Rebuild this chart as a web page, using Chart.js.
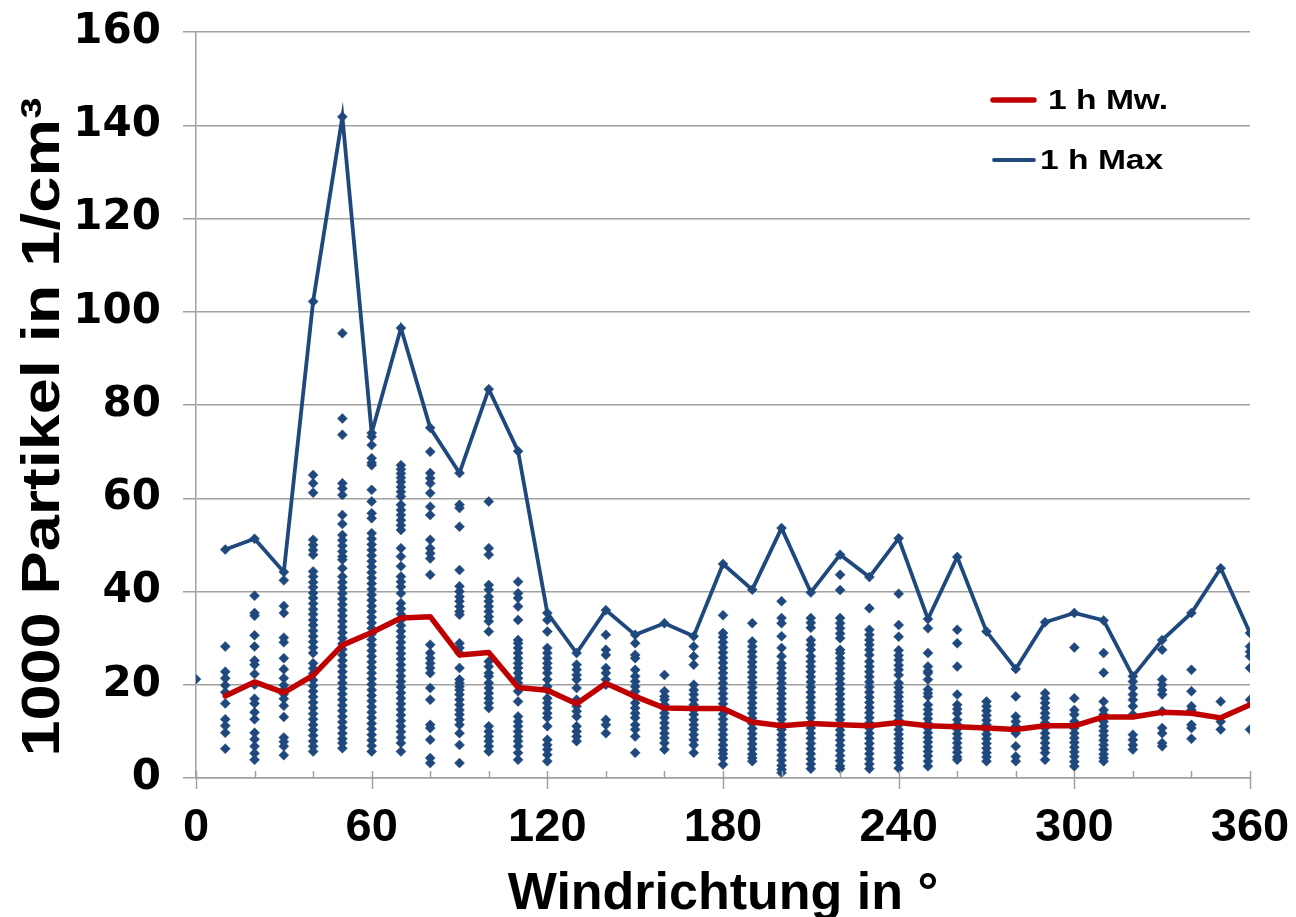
<!DOCTYPE html>
<html><head><meta charset="utf-8">
<script src="https://cdn.jsdelivr.net/npm/chart.js@4.4.0/dist/chart.umd.min.js"></script>
<style>html,body{margin:0;padding:0;background:#fff;overflow:hidden}#wrap{width:1296px;height:917px;position:relative}</style>
</head><body><div id="wrap"><canvas id="c" width="1296" height="917"></canvas></div>
<script>
// Wind direction classes (degrees)
const directions = [0,10,20,30,40,50,60,70,80,90,100,110,120,130,140,150,160,170,180,190,200,210,220,230,240,250,260,270,280,290,300,310,320,330,340,350,360];
// 1 h Max (1000 particles / cm3)
const maxValues = [null,49.0,51.3,44.2,102.2,141.8,74.0,96.5,75.1,65.4,83.4,70.1,35.4,26.8,36.0,30.7,33.2,30.4,45.9,40.4,53.6,39.8,47.9,43.1,51.4,34.1,47.4,31.4,23.4,33.4,35.4,33.8,21.8,29.6,35.4,45.0,31.1];
// 1 h Mw. (mean)
const meanValues = [null,17.6,20.6,18.3,22.0,28.5,31.2,34.3,34.6,26.4,26.9,19.4,18.8,15.9,20.3,17.5,15.0,14.9,14.9,12.0,11.2,11.7,11.4,11.2,11.9,11.2,11.0,10.7,10.4,11.2,11.2,13.1,13.1,14.1,13.9,12.9,15.7];
// individual hourly values per direction class (besides the max)
const samples = [
 [21.2],
 [28.2,22.8,21.4,19.9,18.4,16.0,12.6,11.2,9.7,6.3],
 [39.1,35.4,34.8,30.6,28.2,25.2,24.3,22.3,20.0,17.0,16.0,14.1,12.6,9.7,8.3,6.8,5.3,3.9],
 [42.4,36.9,35.4,30.1,29.1,25.7,23.3,21.4,19.9,18.9,18.0,17.0,15.5,13.1,8.7,7.8,6.8,4.9],
 [65.0,63.2,61.2,51.1,50.0,48.9,47.9,44.3,43.2,42.0,40.9,39.7,38.6,37.4,36.2,35.1,33.9,32.8,31.6,30.4,29.2,28.0,26.8,24.6,23.5,22.4,21.0,19.8,18.6,17.4,16.2,15.0,13.8,12.6,11.4,10.3,9.1,7.9,6.8,5.7],
 [95.4,77.1,73.6,63.2,62.1,60.7,56.4,54.5,52.1,51.0,49.8,48.6,47.5,46.8,45.0,43.2,42.0,40.8,39.6,38.4,37.2,36.0,34.8,33.6,32.4,31.2,30.0,28.8,27.6,26.4,25.2,24.0,22.8,21.6,20.4,19.2,18.0,16.8,15.6,14.4,13.2,12.0,10.8,9.6,8.4,7.5,6.4],
 [73.2,71.4,68.6,67.6,67.1,61.8,59.3,56.8,55.7,52.5,51.3,50.1,48.9,47.7,46.5,45.3,44.1,42.9,41.7,40.5,39.3,38.1,36.9,35.7,34.5,33.3,32.1,30.9,29.7,28.5,27.3,26.1,24.9,23.7,22.5,21.3,20.1,18.9,17.7,16.5,15.3,14.1,12.9,11.7,10.5,9.3,8.1,6.9,5.7],
 [67.1,66.2,65.3,64.4,63.5,62.4,61.4,60.4,58.6,57.5,56.4,55.3,54.2,53.2,49.3,47.5,45.4,43.2,42.1,41.0,39.6,37.5,36.3,35.1,33.9,32.7,31.5,30.3,29.1,27.9,26.7,25.5,24.3,23.1,21.9,20.7,19.5,18.3,17.1,15.9,14.7,13.5,12.3,11.1,9.9,8.7,7.5,5.7],
 [70.0,65.4,64.3,63.2,61.1,58.2,56.4,51.1,49.3,48.2,47.1,43.6,28.6,26.8,25.7,24.6,23.6,22.5,19.3,16.8,11.4,10.7,8.2,4.3,3.2],
 [58.6,57.9,53.9,44.6,41.1,40.0,38.9,37.9,36.8,35.7,35.0,28.9,27.9,26.8,23.6,21.1,20.4,19.6,18.9,17.9,16.8,15.7,14.6,13.6,12.5,11.4,9.6,7.1,3.2],
 [59.3,49.3,47.9,41.4,40.4,38.9,37.9,36.8,35.7,34.6,33.6,31.4,25.0,23.9,22.5,21.8,20.4,19.3,18.2,17.1,16.1,15.0,11.1,10.0,8.9,7.9,6.8,5.7],
 [42.1,39.6,38.6,36.8,33.9,29.6,28.9,27.9,26.8,25.7,24.6,23.6,22.5,21.4,20.4,18.6,16.4,13.2,12.1,11.1,10.0,8.9,7.9,6.8,5.4,3.9],
 [33.9,31.4,27.9,26.8,25.7,24.6,23.6,22.5,21.1,19.6,18.9,17.1,16.1,15.0,13.9,12.9,11.1,8.2,7.1,6.1,5.0,3.6],
 [24.3,23.2,22.1,21.1,19.3,16.8,15.4,14.3,13.2,11.1,10.0,8.9,7.9],
 [30.7,27.5,26.4,23.6,22.5,21.1,20.0,12.5,11.4,9.6],
 [28.9,26.4,25.7,23.2,21.8,20.7,19.6,18.6,17.5,16.1,15.0,13.9,12.9,11.4,10.4,8.9,5.4],
 [22.1,18.6,17.5,16.8,15.7,15.0,13.9,12.9,11.8,10.7,9.6,8.6,7.5,6.1],
 [28.2,26.1,24.3,20.0,18.9,17.9,16.8,15.7,14.6,13.6,12.5,11.4,10.4,9.3,8.2,7.1,5.4],
 [34.9,31.1,30.2,29.1,28.0,26.9,25.8,24.7,23.6,22.5,21.4,20.3,19.2,18.1,17.0,15.9,14.8,13.7,12.6,11.5,10.4,9.3,8.2,7.1,6.0,5.2,4.3,2.9],
 [33.2,29.3,28.2,27.1,26.0,24.9,23.8,22.7,21.6,20.5,19.4,18.3,17.2,16.1,15.0,13.9,12.8,11.7,10.6,9.5,8.4,7.3,6.2,5.1,4.3,3.6],
 [37.9,34.3,33.2,30.4,27.9,26.1,24.6,23.6,22.5,21.4,20.3,19.2,18.1,17.0,15.9,14.8,13.7,12.6,11.5,10.4,9.3,8.2,7.1,6.0,4.9,3.8,2.7,1.8,1.1],
 [34.3,33.3,32.2,29.6,28.6,27.5,26.1,25.0,23.9,22.8,21.7,20.6,19.5,18.4,17.3,16.2,15.1,14.0,12.9,11.8,10.7,9.6,8.5,7.4,6.3,5.2,4.1,3.0,2.0],
 [43.6,40.3,34.3,33.2,32.1,31.0,30.0,27.5,26.8,25.7,24.6,23.5,22.4,21.3,20.2,19.1,18.0,16.9,15.8,14.7,13.6,12.5,11.4,10.3,9.2,8.1,7.0,5.9,4.8,3.7,2.6,2.0],
 [36.4,31.8,30.7,29.6,28.6,27.5,26.4,25.0,23.9,22.8,21.7,20.6,19.5,18.4,17.3,16.2,15.1,14.0,12.9,11.8,10.7,9.6,8.5,7.4,6.3,5.2,4.1,3.0,2.0],
 [39.5,32.8,30.3,27.4,26.3,25.3,24.2,23.2,22.1,20.4,19.4,18.4,17.4,16.4,15.4,14.4,13.4,12.4,11.4,10.4,9.4,8.4,7.4,6.4,5.4,4.4,3.3,2.1],
 [32.1,26.8,23.9,22.9,22.5,21.1,19.0,18.2,17.5,15.7,14.7,13.7,12.7,11.7,10.7,9.7,8.7,7.7,6.7,5.7,4.7,3.6,2.5],
 [31.8,28.9,23.9,17.9,15.7,14.8,13.9,12.5,11.5,10.5,9.5,8.5,7.5,6.5,5.5,4.5,3.9],
 [16.4,15.4,14.4,13.4,12.4,11.4,10.4,9.4,8.4,7.4,6.4,5.4,4.5,3.6],
 [17.5,13.2,12.1,11.1,10.3,9.6,6.8,4.6,3.6],
 [18.2,17.1,16.1,15.0,13.9,12.9,11.8,10.7,9.6,8.6,7.5,6.4,5.4,3.9],
 [28.0,17.1,14.6,13.6,12.1,10.7,9.6,8.6,7.6,6.6,5.6,4.6,3.5,2.5],
 [26.8,22.6,16.4,14.6,13.6,12.1,11.1,10.1,9.1,8.1,7.1,6.1,5.1,4.3,3.6],
 [20.7,19.3,17.9,16.8,15.4,13.6,9.3,8.2,7.1,6.1],
 [27.5,21.1,20.0,18.9,17.9,14.3,10.7,9.6,7.5,6.8],
 [23.2,18.6,15.4,14.6,11.4,10.7,8.4],
 [16.4,12.1,10.4],
 [28.2,27.1,26.1,23.6,16.8,10.4]
];
const xTickValues = [0,60,120,180,240,300,360];
const yTickValues = [0,20,40,60,80,100,120,140,160];
const labelMean = '1 h Mw.';
const labelMax = '1 h Max';
const xTitle = 'Windrichtung in °';
const yTitle = '1000 Partikel in 1/cm³';

const BLUE = '#1F497D', RED = '#C00000', GRID = '#A0A0A0';

const scatterPoints = [];
directions.forEach((d, i) => {
  samples[i].forEach(v => scatterPoints.push({x: d, y: v}));
  if (maxValues[i] != null) scatterPoints.push({x: d, y: maxValues[i]});
});
const meanPoints = directions.map((d, i) => ({x: d, y: meanValues[i]})).filter(p => p.y != null);
const maxPoints = directions.map((d, i) => ({x: d, y: maxValues[i]})).filter(p => p.y != null);

const axisTicksPlugin = {
  id: 'axisTicks',
  afterDraw(chart) {
    const ctx = chart.ctx, xs = chart.scales.x, ca = chart.chartArea;
    ctx.save();
    ctx.strokeStyle = GRID; ctx.lineWidth = 1.5;
    for (let v = 0; v <= 360; v += 20) {
      const px = Math.round(xs.getPixelForValue(v)) + 0.5;
      const major = xTickValues.includes(v);
      ctx.beginPath();
      ctx.moveTo(px, ca.bottom - 7);
      ctx.lineTo(px, ca.bottom + (major ? 11 : 0));
      ctx.stroke();
    }
    // y axis title (drawn rotated, slightly stretched along its direction)
    ctx.save();
    ctx.translate(42, 427);
    ctx.rotate(-Math.PI / 2);
    ctx.scale(1.2, 1);
    ctx.fillStyle = '#000';
    ctx.font = 'bold 54px "Liberation Sans", Arial, sans-serif';
    ctx.textAlign = 'center';
    ctx.textBaseline = 'middle';
    ctx.fillText(yTitle, 0, 2);
    ctx.restore();
    ctx.restore();
  }
};

const legendPlugin = {
  id: 'customLegend',
  afterDraw(chart) {
    const ctx = chart.ctx;
    const entries = [
      {ds: chart.data.datasets[0], lx1: 993, lx2: 1034, y: 100, tx: 1048},
      {ds: chart.data.datasets[1], lx1: 994, lx2: 1034, y: 160, tx: 1040}
    ];
    ctx.save();
    entries.forEach(e => {
      ctx.strokeStyle = e.ds.borderColor; ctx.lineWidth = e.ds.borderWidth; ctx.lineCap = 'round';
      ctx.beginPath(); ctx.moveTo(e.lx1, e.y); ctx.lineTo(e.lx2, e.y); ctx.stroke();
      ctx.save();
      ctx.translate(e.tx, e.y);
      ctx.scale(1.2, 1);
      ctx.fillStyle = '#000';
      ctx.font = 'bold 28px "Liberation Sans", Arial, sans-serif';
      ctx.textBaseline = 'middle';
      ctx.fillText(e.ds.label, 0, 1);
      ctx.restore();
    });
    ctx.restore();
  }
};

new Chart(document.getElementById('c'), {
  type: 'scatter',
  data: {
    datasets: [
      {type: 'line', label: labelMean, data: meanPoints, borderColor: RED, backgroundColor: RED, borderWidth: 5.5, pointRadius: 0, tension: 0, fill: false, borderJoinStyle: 'round', borderCapStyle: 'round', order: 1},
      {type: 'line', label: labelMax, data: maxPoints, borderColor: BLUE, backgroundColor: BLUE, borderWidth: 3.8, pointRadius: 0, tension: 0, fill: false, borderJoinStyle: 'miter', order: 2},
      {type: 'scatter', label: 'Einzelwerte', data: scatterPoints, pointStyle: 'rectRot', pointRadius: 5, pointBackgroundColor: BLUE, pointBorderColor: BLUE, pointBorderWidth: 0.5, order: 3}
    ]
  },
  options: {
    responsive: false,
    animation: false,
    devicePixelRatio: 1,
    layout: {padding: {top: 32, right: 46, left: 0, bottom: 0}},
    plugins: {legend: {display: false}, tooltip: {enabled: false}},
    scales: {
      x: {
        type: 'linear', min: 0, max: 360,
        afterBuildTicks: s => { s.ticks = xTickValues.map(v => ({value: v})); },
        afterFit: s => { s.height = 139; s.paddingLeft = 0; s.paddingRight = 0; },
        ticks: {color: '#000', font: {family: '"Liberation Sans", Arial, sans-serif', weight: 'bold', size: 47}, padding: 12, maxRotation: 0, autoSkip: false},
        grid: {display: true, drawOnChartArea: false, drawTicks: true, tickLength: 10, color: 'rgba(0,0,0,0)'},
        border: {display: true, color: GRID, width: 1.5},
        title: {display: true, text: xTitle, color: '#000', font: {family: '"Liberation Sans", Arial, sans-serif', weight: 'bold', size: 52, lineHeight: 0.8}, padding: {top: 0, bottom: 2}}
      },
      y: {
        type: 'linear', min: 0, max: 160,
        afterBuildTicks: s => { s.ticks = yTickValues.map(v => ({value: v})); },
        afterFit: s => { s.width = 196; s.paddingTop = 0; s.paddingBottom = 0; },
        ticks: {color: '#000', font: {family: '"DejaVu Sans", sans-serif', weight: 'bold', size: 42}, padding: 22},
        grid: {color: GRID, lineWidth: 1.5, tickLength: 13, drawTicks: true},
        border: {display: true, color: GRID, width: 1.5},
        title: {display: false}
      }
    }
  },
  plugins: [axisTicksPlugin, legendPlugin]
});
</script>
</body></html>
